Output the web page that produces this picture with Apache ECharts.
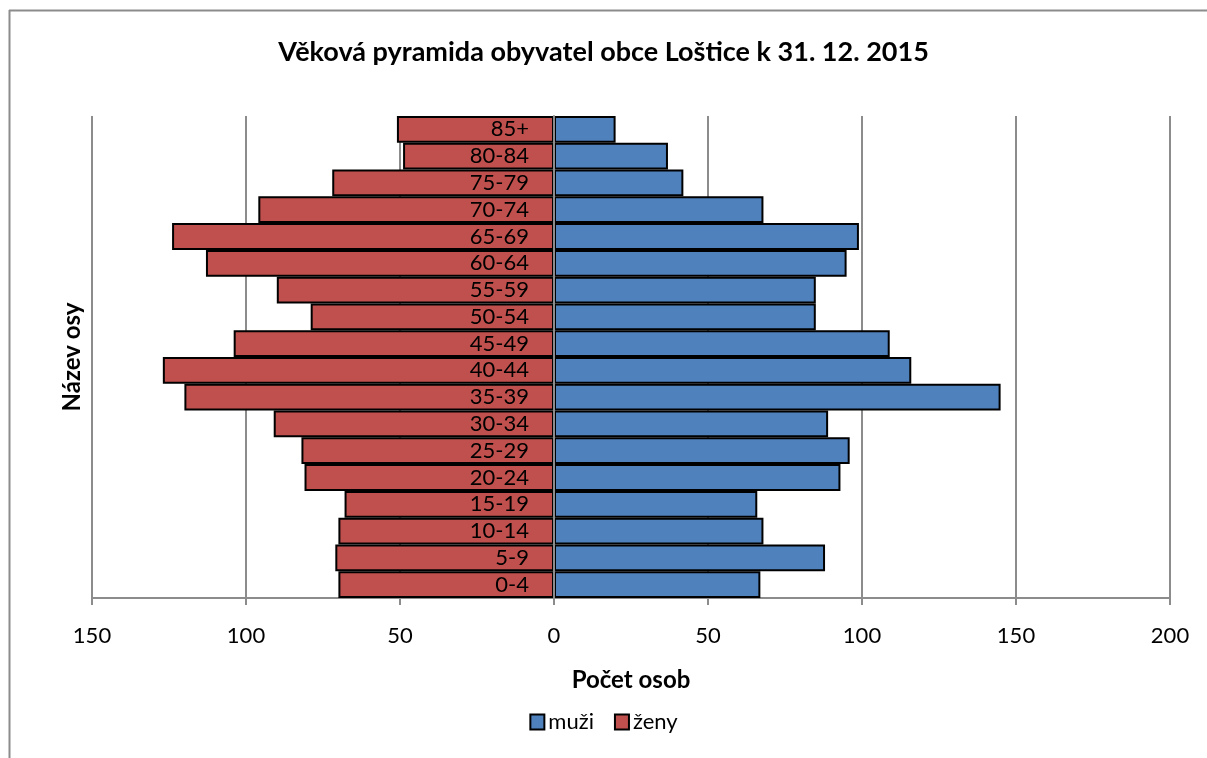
<!DOCTYPE html>
<html>
<head>
<meta charset="utf-8">
<script src="https://cdn.jsdelivr.net/npm/echarts@6/dist/echarts.min.js"></script>
<style>html,body{margin:0;padding:0;background:#fff;}#c{width:1207px;height:758px;}</style>
</head>
<body>
<div id="c"></div>
<script>
const categories = ['0-4','5-9','10-14','15-19','20-24','25-29','30-34','35-39','40-44','45-49','50-54','55-59','60-64','65-69','70-74','75-79','80-84','85+'];
const muzi = [67, 88, 68, 66, 93, 96, 89, 145, 116, 109, 85, 85, 95, 99, 68, 42, 37, 20];
const zeny = [70, 71, 70, 68, 81, 82, 91, 120, 127, 104, 79, 90, 113, 124, 96, 72, 49, 51];
const xTicks = [-150, -100, -50, 0, 50, 100, 150, 200];

const FONT = 'Lato, Carlito, "Open Sans", sans-serif';
const GRID_LEFT = 92, GRID_RIGHT = 37;
const chart = echarts.init(document.getElementById('c'), null, {renderer: 'canvas'});
// position of zero on the value axis, for placing the category axis line there
const plotW = 1207 - GRID_LEFT - GRID_RIGHT;
const zeroOffset = plotW * (0 - xTicks[0]) / (xTicks[xTicks.length - 1] - xTicks[0]);

chart.setOption({
  animation: false,
  backgroundColor: '#fff',
  textStyle: {fontFamily: FONT},
  title: {
    text: 'Věková pyramida obyvatel obce Loštice k 31. 12. 2015',
    left: 'center', top: 34,
    textStyle: {fontFamily: FONT, fontSize: 27, fontWeight: 'bold', color: '#000'}
  },
  legend: {
    bottom: 20, left: 'center',
    icon: 'rect',
    itemWidth: 14, itemHeight: 15, itemGap: 20,
    itemStyle: {borderColor: '#000', borderWidth: 2},
    textStyle: {fontFamily: FONT, fontSize: 22, color: '#000', padding: [0, 0, 0, -1]},
    data: ['muži', 'ženy']
  },
  grid: {left: GRID_LEFT, right: GRID_RIGHT, top: 116, bottom: 160, containLabel: false, outerBoundsMode: 'none'},
  xAxis: {
    type: 'value', min: xTicks[0], max: xTicks[xTicks.length - 1], interval: 50,
    name: 'Počet osob', nameLocation: 'middle', nameGap: 70,
    nameTextStyle: {fontFamily: FONT, fontSize: 24, fontWeight: 'bold', color: '#000'},
    axisLine: {show: true, onZero: false, lineStyle: {color: '#8c8c8c', width: 2}},
    axisTick: {show: true, length: 7, lineStyle: {color: '#8c8c8c', width: 2}},
    axisLabel: {fontFamily: FONT, fontSize: 22, color: '#000', margin: 27, formatter: v => String(Math.abs(v))},
    splitLine: {show: true, lineStyle: {color: '#8c8c8c', width: 2}}
  },
  yAxis: {
    type: 'category', data: categories,
    position: 'left', offset: -zeroOffset,
    z: 10,
    axisLine: {show: true, onZero: false, lineStyle: {color: '#8c8c8c', width: 2}},
    axisTick: {show: false},
    axisLabel: {interval: 0, fontFamily: FONT, fontSize: 22, color: '#000', margin: 25}
  },
  series: [
    {
      name: 'muži', type: 'bar', stack: 'pop', barCategoryGap: '0%',
      data: muzi,
      itemStyle: {color: '#4F81BD', borderColor: '#000', borderWidth: 2}
    },
    {
      name: 'ženy', type: 'bar', stack: 'pop', barCategoryGap: '0%',
      data: zeny.map(v => -v),
      itemStyle: {color: '#C0504D', borderColor: '#000', borderWidth: 2}
    }
  ],
  graphic: [
    {type: 'line', silent: true, shape: {x1: 9, y1: 10.5, x2: 1207, y2: 10.5}, style: {stroke: '#8c8c8c', lineWidth: 2}},
    {type: 'line', silent: true, shape: {x1: 9.5, y1: 10, x2: 9.5, y2: 758}, style: {stroke: '#8c8c8c', lineWidth: 2}},
    {type: 'text', x: 72, y: 357, rotation: Math.PI / 2,
     style: {text: 'Název osy', fill: '#000', font: 'bold 24px ' + FONT, align: 'center', verticalAlign: 'middle'}}
  ]
});
</script>
</body>
</html>
